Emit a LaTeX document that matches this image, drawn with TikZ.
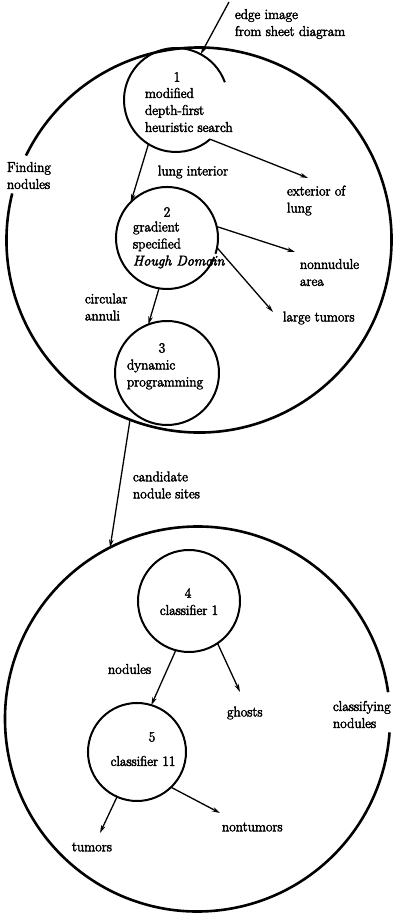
\documentclass[tikz,border=0pt]{standalone}
\usepackage{fontspec}
\setmainfont{Latin Modern Roman}[FakeBold=3]
\usetikzlibrary{arrows.meta}
\begin{document}
\begin{tikzpicture}[x=1pt,y=1pt,
  region/.style={circle,inner sep=0pt,outer sep=0pt,minimum size=385pt},
  regionline/.style={line width=2.6pt},
  proc/.style={circle,inner sep=0pt,outer sep=0pt,line width=2pt},
  procline/.style={line width=2pt},
  txt/.style={inner sep=0pt,outer sep=0pt,font=\fontsize{14.2}{17}\selectfont,align=left},
  flow/.style={line width=1.3pt,-{Stealth[length=8pt,width=4.5pt]}},
]
\useasboundingbox (0,0) rectangle (403,914);

% the two stages, drawn as open circles around their labels
\node[region] (find) at (199,674) {};
\node[region] (classify) at (197.5,195) {};
\draw[regionline] (find.166) arc[start angle=166,end angle=514,radius=192.5pt];
\draw[regionline] (classify.8) arc[start angle=8,end angle=356,radius=192.5pt];

% processes
\node[proc,minimum size=104pt] (n1) at (176,814) {};
\draw[procline] (n1.20) arc[start angle=20,end angle=311,radius=52pt];
\node[proc,minimum size=102pt] (n2) at (167,676) {};
\draw[procline] (n2.-18) arc[start angle=-18,end angle=338,radius=51pt];
\node[proc,draw,minimum size=104pt] (n3) at (167,541) {};
\node[proc,draw,minimum size=102pt] (n4) at (189,313) {};
\node[proc,draw,minimum size=98pt] (n5) at (137,162) {};

% process texts
\node[txt] (n1num) at (177,837) {1};
\node[txt,anchor=west] (n1txt) at (145,804) {modified\\depth-first\\heuristic search};
\node[txt] (n2num) at (167,702) {2};
\node[txt,anchor=west] (n2txt) at (133,669) {gradient\\specified\\\textit{Hough Domain}};
\node[txt] (n3num) at (162,566) {3};
\node[txt,anchor=west] (n3txt) at (127,539.5) {dynamic\\programming};
\node[txt] (n4num) at (188,321) {4};
\node[txt] (n4txt) at (189,304) {classifier 1};
\node[txt] (n5num) at (152,177) {5};
\node[txt] (n5txt) at (143,153) {classifier 11};

% data labels
\node[txt,anchor=west] (edge) at (235,890) {edge image\\from sheet diagram};
\node[txt,anchor=west] (findlbl) at (7,738.5) {Finding\\nodules};
\node[txt] (lunglbl) at (193,742) {lung interior};
\node[txt,anchor=west] (ext) at (287,713.5) {exterior of\\lung};
\node[txt,anchor=west] (area) at (300,641.5) {nonnudule\\area};
\node[txt,anchor=west] (large) at (283,596) {large tumors};
\node[txt,anchor=west] (annuli) at (85,607) {circular\\annuli};
\node[txt,anchor=west] (cand) at (133,429) {candidate\\nodule sites};
\node[txt,anchor=west] (nodlbl) at (108,245) {nodules};
\node[txt,anchor=west] (ghosts) at (227,201) {ghosts};
\node[txt,anchor=west] (classlbl) at (333,199.5) {classifying\\nodules};
\node[txt,anchor=west] (tumors) at (72,67) {tumors};
\node[txt,anchor=west] (nontum) at (222,87) {nontumors};

% free ends of the flows
\coordinate (src) at (229,912);
\coordinate (extTip) at (308,736);
\coordinate (areaTip) at (295,662);
\coordinate (largeTip) at (273,602);
\coordinate (ghostTip) at (240,222);
\coordinate (tumTip) at (100,81);
\coordinate (nontumTip) at (220,101);

% flows
\draw[flow] (src) -- (n1);
\draw[flow] (n1.238) -- (n2.135);
\draw[flow] (n1.311) -- (extTip);
\draw[flow] (n2.13) -- (areaTip);
\draw[flow] (n2.349) -- (largeTip);
\draw[flow] (n2.261) -- (n3.111);
\draw[flow] (find.249) -- (classify.117);
\draw[flow] (n4.255) -- (n5.73);
\draw[flow] (n4.304) -- (ghostTip);
\draw[flow] (n5.246) -- (tumTip);
\draw[flow] (n5.314) -- (nontumTip);
\end{tikzpicture}
\end{document}
